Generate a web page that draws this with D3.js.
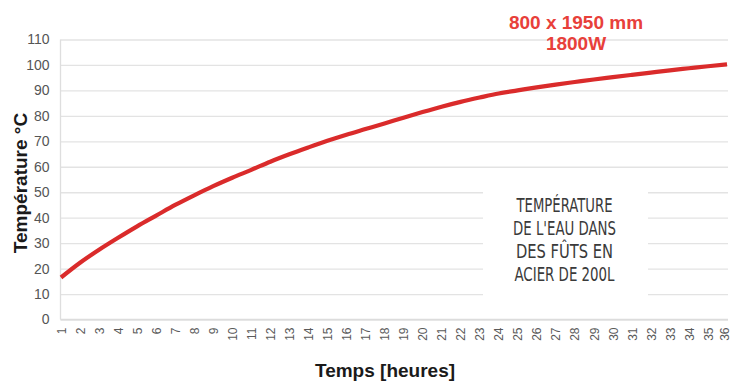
<!DOCTYPE html>
<html>
<head>
<meta charset="utf-8">
<script src="https://cdn.jsdelivr.net/npm/d3@7/dist/d3.min.js"></script>
<style>
  html, body { margin: 0; padding: 0; background: #fff; }
  svg { display: block; }
</style>
</head>
<body>
<svg id="chart" width="733" height="382"></svg>
<script>
// Hours of heating
const hours = d3.range(1, 37);
// Water temperature (°C) in a 200 l steel drum, 800 x 1950 mm heater, 1800 W
const temperatures = [
  16.5, 22.3, 27.4, 32.1, 36.6, 40.8, 45.0, 48.8, 52.4, 55.7,
  58.8, 62.0, 64.9, 67.6, 70.2, 72.6, 74.8, 77.0, 79.3, 81.5,
  83.6, 85.5, 87.2, 88.8, 90.0, 91.2, 92.3, 93.3, 94.3, 95.2,
  96.1, 97.0, 97.9, 98.7, 99.5, 100.2
];
const yTicks = [0, 10, 20, 30, 40, 50, 60, 70, 80, 90, 100, 110];
const titleLines = ["800 x 1950 mm", "1800W"];
const noteLines = ["TEMPÉRATURE", "DE L'EAU DANS", "DES FÛTS EN", "ACIER DE 200L"];
const noteWidths = [96, 103, 97, 100];

const svg = d3.select("#chart");
const plot = { left: 60.5, right: 728, top: 39.5, bottom: 319.5 };

const x = d3.scaleLinear().domain([1, 36]).range([61, 727]);
const y = d3.scaleLinear().domain([0, 110]).range([plot.bottom, plot.top]);

const font = "'Liberation Sans', Arial, Helvetica, sans-serif";

// Horizontal gridlines with value labels
const yAxis = svg.append("g")
  .attr("transform", `translate(${plot.left},0)`)
  .call(d3.axisLeft(y).tickValues(yTicks).tickSize(-(plot.right - plot.left)).tickPadding(11));
yAxis.select(".domain").remove();
yAxis.selectAll(".tick line").attr("stroke", "#e3e3e3").attr("stroke-width", 1.3);
yAxis.selectAll(".tick text")
  .attr("fill", "#555").style("font-family", font).style("font-size", "14px");

// Left axis line
svg.append("line")
  .attr("x1", plot.left).attr("x2", plot.left).attr("y1", plot.top).attr("y2", plot.bottom)
  .attr("stroke", "#dedede").attr("stroke-width", 1.3);

// Hour labels, rotated; the last one is nudged inside the canvas edge
const xAxis = svg.append("g")
  .attr("transform", `translate(0,${plot.bottom})`)
  .call(d3.axisBottom(x).tickValues(hours).tickFormat(d3.format("d")).tickSize(0));
xAxis.select(".domain").attr("stroke", "#dcdcdc").attr("stroke-width", 1.5)
  .attr("d", `M${plot.left},0H${plot.right}`);
xAxis.selectAll(".tick text")
  .attr("fill", "#5a5a5a").style("font-family", font).style("font-size", "12px")
  .attr("text-anchor", "end")
  .attr("transform", d => `translate(${d === 36 ? -2.5 : 0},8) rotate(-90)`)
  .attr("x", 0).attr("y", 0).attr("dy", "0.35em");

// Note box over the gridlines
const noteG = svg.append("g");
noteG.append("rect")
  .attr("x", 483).attr("y", 188).attr("width", 165).attr("height", 108)
  .attr("fill", "#fff");
noteG.selectAll("text").data(noteLines).join("text")
  .attr("x", 564.5)
  .attr("y", (d, i) => 212 + i * 23)
  .attr("text-anchor", "middle")
  .attr("textLength", (d, i) => noteWidths[i])
  .attr("lengthAdjust", "spacingAndGlyphs")
  .attr("fill", "#3a3a3a")
  .style("font-family", "'Liberation Sans Narrow', 'DejaVu Sans Condensed', sans-serif")
  .style("font-size", "19.5px")
  .text(d => d);

// Temperature curve
const line = d3.line()
  .x((d, i) => x(hours[i]))
  .y(d => y(d))
  .curve(d3.curveMonotoneX);
svg.append("path")
  .datum(temperatures)
  .attr("fill", "none")
  .attr("stroke", "#da2b2b")
  .attr("stroke-width", 4.2)
  .attr("stroke-linejoin", "round")
  .attr("d", line);

// Red heading
svg.selectAll(".heading").data(titleLines).join("text")
  .attr("class", "heading")
  .attr("x", 576)
  .attr("y", (d, i) => 29 + i * 21)
  .attr("text-anchor", "middle")
  .attr("fill", "#e8403a")
  .style("font-family", font).style("font-weight", "bold").style("font-size", "19px")
  .text(d => d);

// Axis titles
svg.append("text")
  .attr("transform", "translate(27,183) rotate(-90)")
  .attr("text-anchor", "middle")
  .attr("fill", "#1a1a1a")
  .style("font-family", font).style("font-weight", "bold").style("font-size", "19px")
  .text("Température °C");

svg.append("text")
  .attr("x", 385).attr("y", 377)
  .attr("text-anchor", "middle")
  .attr("fill", "#1a1a1a")
  .style("font-family", font).style("font-weight", "bold").style("font-size", "19px")
  .text("Temps [heures]");
</script>
</body>
</html>
